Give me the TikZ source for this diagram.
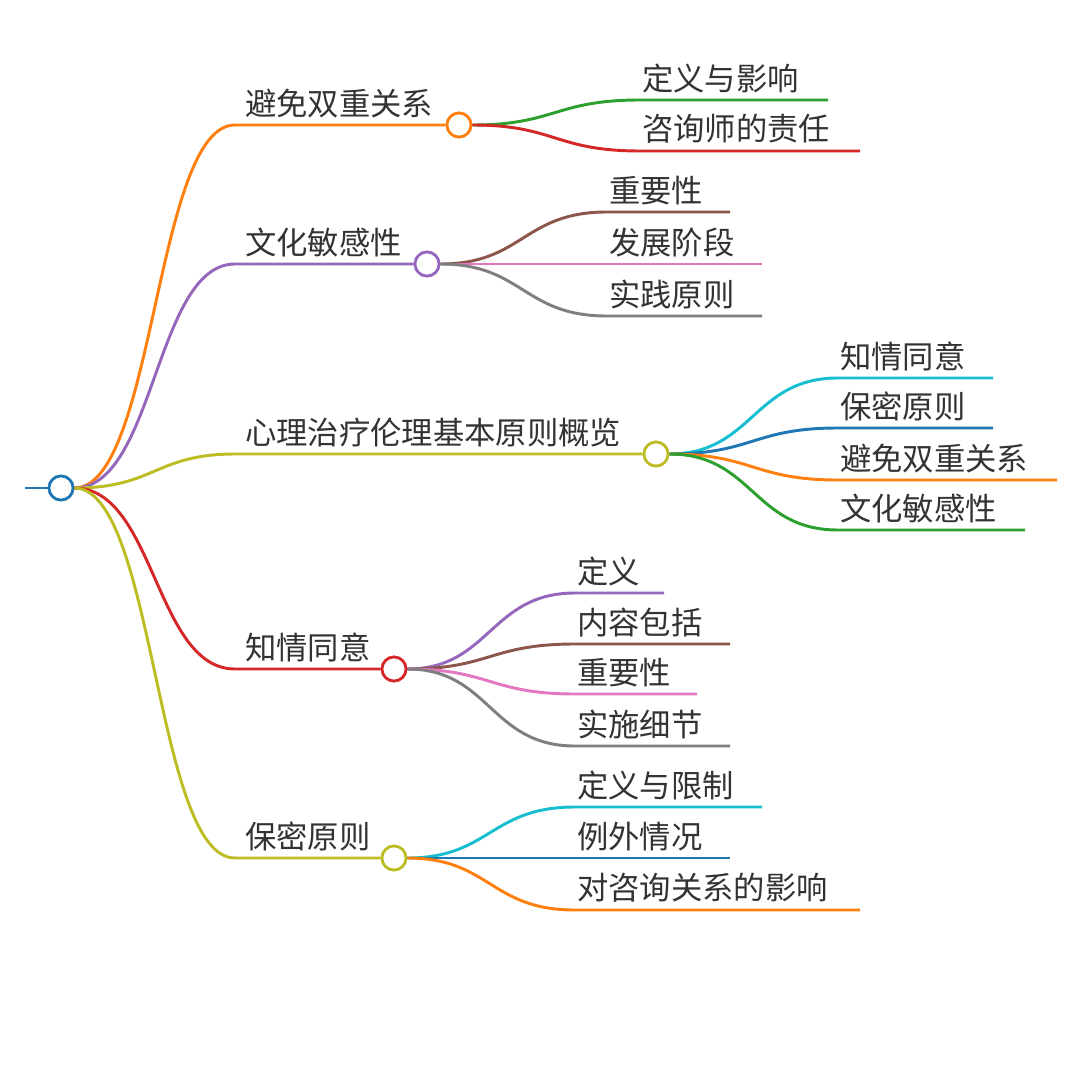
\documentclass[tikz,border=0pt]{standalone}
\usepackage{fontspec}
\newfontfamily\cjk{Noto Sans CJK SC}
\definecolor{cO}{HTML}{FF7F0E}\definecolor{cP}{HTML}{9467BD}\definecolor{cY}{HTML}{BCBD22}
\definecolor{cR}{HTML}{D62728}\definecolor{cG}{HTML}{2CA02C}\definecolor{cB}{HTML}{1F77B4}
\definecolor{cC}{HTML}{17BECF}\definecolor{cBr}{HTML}{8C564B}\definecolor{cPk}{HTML}{E377C2}
\definecolor{cGr}{HTML}{7F7F7F}
\begin{document}
\begin{tikzpicture}[x=0.75pt,y=-0.75pt,
 ln/.style={line width=2.2pt},
 dot/.style={circle,draw,line width=2pt,fill=white,minimum size=18pt,inner sep=0pt},
 lbl/.style={anchor=south west,inner sep=0pt,font=\cjk\fontsize{23.5}{26}\selectfont,text=black!80}]
\useasboundingbox (0,0) rectangle (1084,1084);
\fill[white] (0,0) rectangle (1084,1084);
\coordinate (rs) at (25,488);
\node[dot,draw=cB] (r) at (61,488) {};
\node[dot,draw=cO] (n1) at (459,125) {};
\node[dot,draw=cP] (n2) at (427,264) {};
\node[dot,draw=cY] (n3) at (656,454) {};
\node[dot,draw=cR] (n4) at (394,669) {};
\node[dot,draw=cY] (n5) at (394,858) {};
\draw[ln,cB] (rs) -- (r.west);
\foreach \n/\y/\c in {n1/125/cO,n2/264/cP,n3/454/cY,n4/669/cR,n5/858/cY}{
  \draw[ln,\c] (r.east) .. controls (155,488) and (155,\y) .. (235,\y) -- (\n.west);
}
\node[lbl] (t1) at (245,118) {避免双重关系};
\node[lbl] (t2) at (245,257) {文化敏感性};
\node[lbl] (t3) at (245,447) {心理治疗伦理基本原则概览};
\node[lbl] (t4) at (245,662) {知情同意};
\node[lbl] (t5) at (245,851) {保密原则};
\foreach \p/\py/\mx/\sx/\ex/\y/\c/\t in {
 n1/125/555/640/828/100/cG/定义与影响, n1/125/555/640/860/151/cR/咨询师的责任,
 n2/264/523/607/730/212/cBr/重要性, n2/264/523/607/762/264/cPk/发展阶段, n2/264/523/607/762/316/cGr/实践原则,
 n3/454/753/838/993/378/cC/知情同意, n3/454/753/838/993/428/cB/保密原则, n3/454/753/838/1057/480/cO/避免双重关系, n3/454/753/838/1025/530/cG/文化敏感性,
 n4/669/490/575/664/593/cP/定义, n4/669/490/575/730/644/cBr/内容包括, n4/669/490/575/697/694/cPk/重要性, n4/669/490/575/730/746/cGr/实施细节,
 n5/858/490/575/762/807/cC/定义与限制, n5/858/490/575/730/858/cB/例外情况, n5/858/490/575/860/910/cO/对咨询关系的影响}{
  \coordinate (e) at (\ex,\y);
  \draw[ln,\c] (\p.east) .. controls (\mx,\py) and (\mx,\y) .. (\sx,\y) -- (e);
  \node[lbl] at (\sx+2,\y-7) {\t};
}
\foreach \n/\c/\x/\y in {r/cB/61/488,n1/cO/459/125,n2/cP/427/264,n3/cY/656/454,n4/cR/394/669,n5/cY/394/858}{
  \node[dot,draw=\c] at (\x,\y) {};
}
\end{tikzpicture}
\end{document}
